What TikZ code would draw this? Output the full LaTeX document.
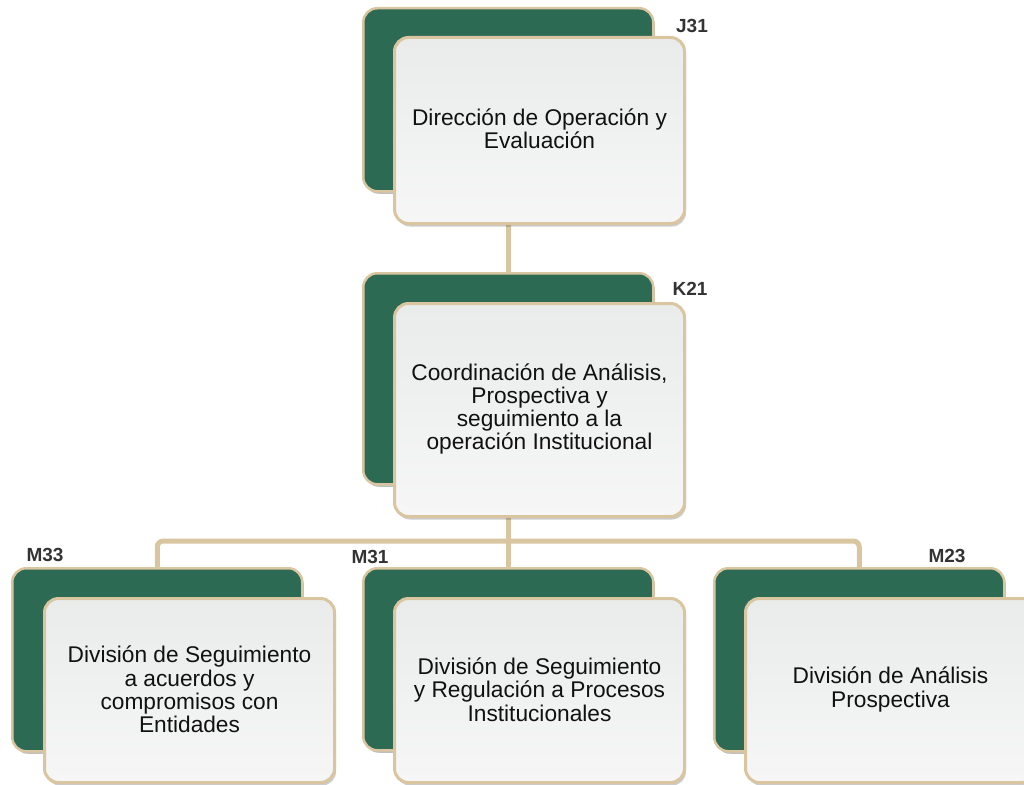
\documentclass[tikz,border=0pt]{standalone}
\usepackage{fontspec}
\setmainfont{Liberation Sans}
\usetikzlibrary{backgrounds,shadows}
\definecolor{gfill}{HTML}{2D6A54}
\definecolor{tan}{HTML}{D9C59F}
\definecolor{wtop}{HTML}{E9ECEB}
\definecolor{wbot}{HTML}{F6F6F6}
\definecolor{lbl}{HTML}{333333}
\definecolor{txt}{HTML}{111111}
\tikzset{
  gbox/.style={draw=tan, line width=2.5pt, fill=gfill, rounded corners=14pt,
    minimum width=290pt, anchor=north west, inner sep=0pt,
    drop shadow={shadow xshift=1.5pt, shadow yshift=-2.5pt, opacity=0.25, fill=black}},
  wbox/.style={draw=tan, line width=3pt, top color=wtop, bottom color=wbot,
    rounded corners=14pt, minimum width=290pt, anchor=north west, inner sep=0pt,
    drop shadow={shadow xshift=1.5pt, shadow yshift=-3pt, opacity=0.2, fill=black}},
  btext/.style={text=txt, font=\fontsize{22.7}{23.3}\selectfont, align=center, inner sep=0pt},
  code/.style={font=\fontsize{19}{19}\selectfont\bfseries, text=lbl, inner sep=0pt},
  conn/.style={draw=tan, line width=5pt}
}
\begin{document}
\begin{tikzpicture}[x=1pt,y=-1pt]
\useasboundingbox (0,0) rectangle (1024,784);
% top
\node[gbox, minimum height=183pt] (g1) at (362,7) {};
\node[wbox, minimum height=186pt] (w1) at (393,36) {};
\node[btext] (t1) at ([yshift=2pt]w1.center) {Dirección de Operación y\\Evaluación};
\node[code] (c1) at (692,26) {J31};
% middle
\node[gbox, minimum height=211pt] (g2) at (362,272) {};
\node[wbox, minimum height=213pt] (w2) at (393,302) {};
\node[btext] (t2) at ([yshift=1pt]w2.center) {Coordinación de Análisis,\\Prospectiva y\\seguimiento a la\\operación Institucional};
\node[code] (c2) at (690,289) {K21};
% bottom left
\node[gbox, minimum height=183pt] (g3) at (11,567) {};
\node[wbox, minimum height=184pt] (w3) at (43,597) {};
\node[btext] (t3) at ([yshift=1pt]w3.center) {División de Seguimiento\\a acuerdos y\\compromisos con\\Entidades};
\node[code] (c3) at (45,555) {M33};
% bottom middle
\node[gbox, minimum height=182pt] (g4) at (362,567) {};
\node[wbox, minimum height=184pt] (w4) at (393,597) {};
\node[btext] (t4) at ([yshift=1pt]w4.center) {División de Seguimiento\\y Regulación a Procesos\\Institucionales};
\node[code] (c4) at (370,557) {M31};
% bottom right
\node[gbox, minimum height=183pt] (g5) at (713,567) {};
\node[wbox, minimum height=184pt] (w5) at (744,597) {};
\node[btext] (t5) at ([yshift=1pt]w5.center) {División de Análisis\\Prospectiva};
\node[code] (c5) at (947,556) {M23};
% connectors
\coordinate (j) at (g2.south |- 0,541);
\begin{pgfonlayer}{background}
\draw[conn] (g1.south) -- (g2.north);
\draw[conn] (g2.south) -- (g4.north);
\draw[conn, rounded corners=6pt] (g3.north) |- (j) -| (g5.north);
\end{pgfonlayer}
\end{tikzpicture}
\end{document}
